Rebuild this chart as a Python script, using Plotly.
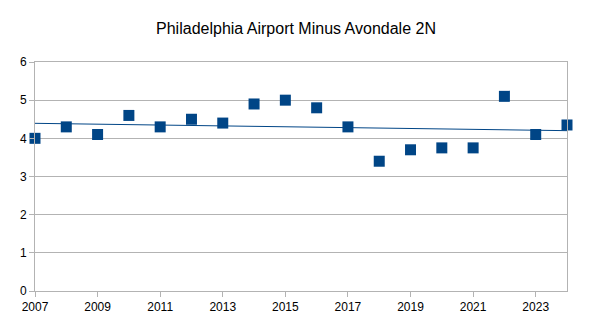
import numpy as np
import plotly.graph_objects as go

years = [2007, 2008, 2009, 2010, 2011, 2012, 2013, 2014, 2015, 2016,
         2017, 2018, 2019, 2020, 2021, 2022, 2023, 2024]
diffs = [4.0, 4.3, 4.1, 4.6, 4.3, 4.5, 4.4, 4.9, 5.0, 4.8,
         4.3, 3.4, 3.7, 3.75, 3.75, 5.1, 4.1, 4.35]
x_ticks = [2007, 2009, 2011, 2013, 2015, 2017, 2019, 2021, 2023]
y_ticks = [0, 1, 2, 3, 4, 5, 6]
title = "Philadelphia Airport Minus Avondale 2N"

color = "#004586"
slope, intercept = np.polyfit(years, diffs, 1)
trend_x = [years[0], years[-1]]
trend_y = [slope * x + intercept for x in trend_x]

fig = go.Figure()
fig.add_trace(go.Scatter(x=trend_x, y=trend_y, mode="lines",
                         line=dict(color=color, width=1), hoverinfo="skip",
                         showlegend=False))
fig.add_trace(go.Scatter(x=years, y=diffs, mode="markers", cliponaxis=False,
                         marker=dict(symbol="square", size=11, color=color,
                                     line=dict(width=0)),
                         showlegend=False))

fig.update_layout(
    width=592, height=321,
    margin=dict(l=35, r=25, t=62, b=30),
    paper_bgcolor="white", plot_bgcolor="white",
    font=dict(family="Liberation Sans, Arial, sans-serif", size=12, color="black"),
    title=dict(text=title, x=0.5, xanchor="center", y=0.913, yanchor="middle",
               font=dict(size=16, color="black")),
    xaxis=dict(range=[2007, 2024], tickvals=x_ticks, ticktext=[str(t) for t in x_ticks],
               showgrid=False, zeroline=False, showline=True, linecolor="#b3b3b3",
               linewidth=1, ticks="outside", ticklen=5, tickcolor="#b3b3b3",
               mirror=True, automargin=False),
    yaxis=dict(range=[0, 6], tickvals=y_ticks, showgrid=True, gridcolor="#b3b3b3",
               gridwidth=1, zeroline=False, showline=True, linecolor="#b3b3b3",
               linewidth=1, ticks="outside", ticklen=5, tickcolor="#b3b3b3",
               mirror=True, automargin=False),
)

fig.write_html("out.html")
